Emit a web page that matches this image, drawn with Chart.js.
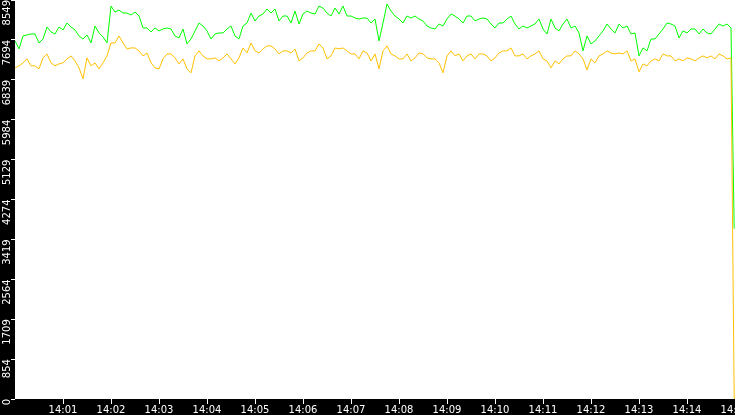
<!DOCTYPE html>
<html>
<head>
<meta charset="utf-8">
<script src="https://cdn.jsdelivr.net/npm/chart.js@4/dist/chart.umd.min.js"></script>
<style>
  html, body { margin: 0; padding: 0; background: #000; }
  #rate-chart { display: block; background: #000; }
</style>
</head>
<body>
<canvas id="rate-chart" width="735" height="415"></canvas>
<script>
// one sample every 5 s from 14:00:00, last value is the drop at 14:14:59
const sampleStep = 5;
const lastSecond = 899;

const greenValues = [
    7672, 7501, 7779, 7800, 7821, 7821, 7629, 7714, 7971, 7864, 7821, 7971, 7907, 8056, 7971, 7907, 7779, 7714, 7800, 7629,
    7992, 7843, 7757, 7629, 8420, 8292, 8334, 8270, 8270, 8227, 8292, 8206, 7950, 7950, 7864, 7950, 7886,
    7928, 7950, 7928, 7779, 7736, 7928, 7608, 7714, 7886, 8056, 7992, 7886, 7714, 7821, 7843, 7843, 7928, 7992, 7779, 7714,
    7992, 8056, 8270, 8099, 8206, 8249, 8356, 8270, 8356, 8099, 8206, 8206, 8056, 8313, 8035, 8249,
    8313, 8270, 8249, 8420, 8377, 8270, 8206, 8377, 8249, 8420, 8206, 8206, 8163, 8142, 8163, 8163, 8056, 8142, 7672, 8056,
    8463, 8313, 8206, 8142, 8056, 8206, 8163, 8206, 8142, 8099, 7992, 7950, 7928, 8035, 7992, 8142,
    8249, 8206, 8142, 8056, 8206, 8206, 8099, 8142, 8163, 8142, 8035, 7950, 8056, 8056, 8142, 8206, 8035, 7928, 7992, 7950,
    7992, 8035, 8142, 7928, 7821, 8142, 7950, 7886, 8035, 8142, 7950, 7992, 7843, 7458, 7779, 7608,
    7672, 7779, 7886, 8035, 7928, 7843, 8035, 7950, 7992, 7821, 7843, 7351, 7522, 7458, 7714, 7714, 7821, 7928, 8056, 8035,
    7992, 7736, 7886, 7843, 7928, 7928, 7821, 7928, 7843, 7821, 7928, 8035, 7992, 8035, 7950,
    3650
];

const yellowValues = [
    7095, 7138, 7202, 7287, 7138, 7138, 7073, 7309, 7394, 7202, 7138, 7180, 7202, 7287, 7351, 7244, 7095, 6860, 7309, 7138,
    7202, 7073, 7202, 7351, 7629, 7629, 7779, 7629, 7501, 7522, 7522, 7458, 7351, 7415, 7202, 7095, 7073,
    7287, 7394, 7394, 7309, 7180, 7287, 7073, 6988, 7351, 7458, 7351, 7287, 7287, 7309, 7244, 7309, 7394, 7287, 7180, 7309,
    7522, 7415, 7629, 7458, 7415, 7501, 7565, 7565, 7501, 7394, 7458, 7458, 7415, 7501, 7244, 7309,
    7415, 7458, 7458, 7608, 7522, 7287, 7351, 7522, 7501, 7522, 7458, 7394, 7394, 7287, 7458, 7415, 7244, 7394, 7073, 7458,
    7565, 7394, 7351, 7287, 7287, 7394, 7244, 7309, 7415, 7394, 7309, 7287, 7287, 7202, 6988, 7351,
    7458, 7351, 7394, 7244, 7351, 7394, 7287, 7394, 7394, 7351, 7244, 7309, 7415, 7458, 7458, 7522, 7351, 7351, 7394, 7287,
    7351, 7394, 7458, 7287, 7244, 7095, 7244, 7180, 7287, 7351, 7351, 7458, 7394, 7287, 7052, 7287,
    7202, 7351, 7394, 7458, 7415, 7394, 7415, 7394, 7458, 7244, 7287, 7010, 7180, 7138, 7244, 7287, 7244, 7394, 7351, 7351,
    7244, 7287, 7244, 7309, 7287, 7244, 7309, 7351, 7309, 7351, 7287, 7394, 7351, 7287, 7309,
    0
];

const xTickSeconds = [60, 120, 180, 240, 300, 360, 420, 480, 540, 600, 660, 720, 780, 840, 900];
const xTickLabels = ['14:01', '14:02', '14:03', '14:04', '14:05', '14:06', '14:07', '14:08',
    '14:09', '14:10', '14:11', '14:12', '14:13', '14:14', '14:15'];

const yMax = 8549;
const yTickValues = [0, 854.9, 1709.8, 2564.7, 3419.6, 4274.5, 5129.4, 5984.3, 6839.2, 7694.1, 8549];
const yTickLabels = ['0', '854', '1709', '2564', '3419', '4274', '5129', '5984', '6839', '7694', '8549'];

const rateChart = (function () {
    function toPoints(values) {
        return values.map((v, i) => ({
            x: i === values.length - 1 ? lastSecond : i * sampleStep,
            y: v
        }));
    }

    // axes sit flush against the canvas edges, no room kept for overhanging labels
    function noPadding(scale) {
        scale.paddingLeft = 0;
        scale.paddingRight = 0;
        scale.paddingTop = 0;
        scale.paddingBottom = 0;
    }

    // white plot area, the rest of the canvas stays black
    const plotBackground = {
        id: 'plotBackground',
        beforeDraw(chart) {
            const {ctx, chartArea} = chart;
            ctx.save();
            ctx.fillStyle = '#ffffff';
            ctx.fillRect(chartArea.left, chartArea.top, chartArea.right - chartArea.left, chartArea.bottom - chartArea.top);
            ctx.restore();
        }
    };

    function config(ele) {
        const tickFont = { family: 'DejaVu Sans', size: 10 };

        new Chart(ele, {
            type: 'line',
            data: {
                datasets: [{
                    label: 'green',
                    data: toPoints(greenValues),
                    borderColor: '#00ff00',
                    borderWidth: 1,
                    pointRadius: 0,
                    order: 1
                }, {
                    label: 'yellow',
                    data: toPoints(yellowValues),
                    borderColor: '#ffc000',
                    borderWidth: 1,
                    pointRadius: 0,
                    order: 0
                }]
            },
            options: {
                responsive: false,
                animation: false,
                devicePixelRatio: 1,
                layout: { padding: 0, autoPadding: false },
                plugins: {
                    legend: { display: false },
                    tooltip: { enabled: false }
                },
                scales: {
                    x: {
                        type: 'linear',
                        min: 0,
                        max: 900,
                        afterBuildTicks: (scale) => { scale.ticks = xTickSeconds.map(v => ({ value: v })); },
                        afterFit: (scale) => { scale.height = 16; noPadding(scale); },
                        grid: { drawOnChartArea: false, drawTicks: true, tickLength: 5, color: '#ffffff' },
                        border: { display: false },
                        ticks: {
                            autoSkip: false,
                            minRotation: 0,
                            maxRotation: 0,
                            padding: 0,
                            color: '#ffffff',
                            font: tickFont,
                            callback: (value, index) => xTickLabels[index]
                        }
                    },
                    y: {
                        min: 0,
                        max: yMax,
                        afterBuildTicks: (scale) => { scale.ticks = yTickValues.map(v => ({ value: v })); },
                        afterFit: (scale) => { scale.width = 15; noPadding(scale); },
                        grid: { drawOnChartArea: false, drawTicks: true, tickLength: 4, color: '#ffffff' },
                        border: { display: false },
                        ticks: {
                            autoSkip: false,
                            minRotation: 90,
                            maxRotation: 90,
                            padding: 4,
                            color: '#ffffff',
                            font: tickFont,
                            callback: (value, index) => yTickLabels[index]
                        }
                    }
                }
            },
            plugins: [plotBackground]
        });
    }

    return {
        configureChart: function () {
            config(document.getElementById('rate-chart'));
        }
    };
})();

rateChart.configureChart();
</script>
</body>
</html>
